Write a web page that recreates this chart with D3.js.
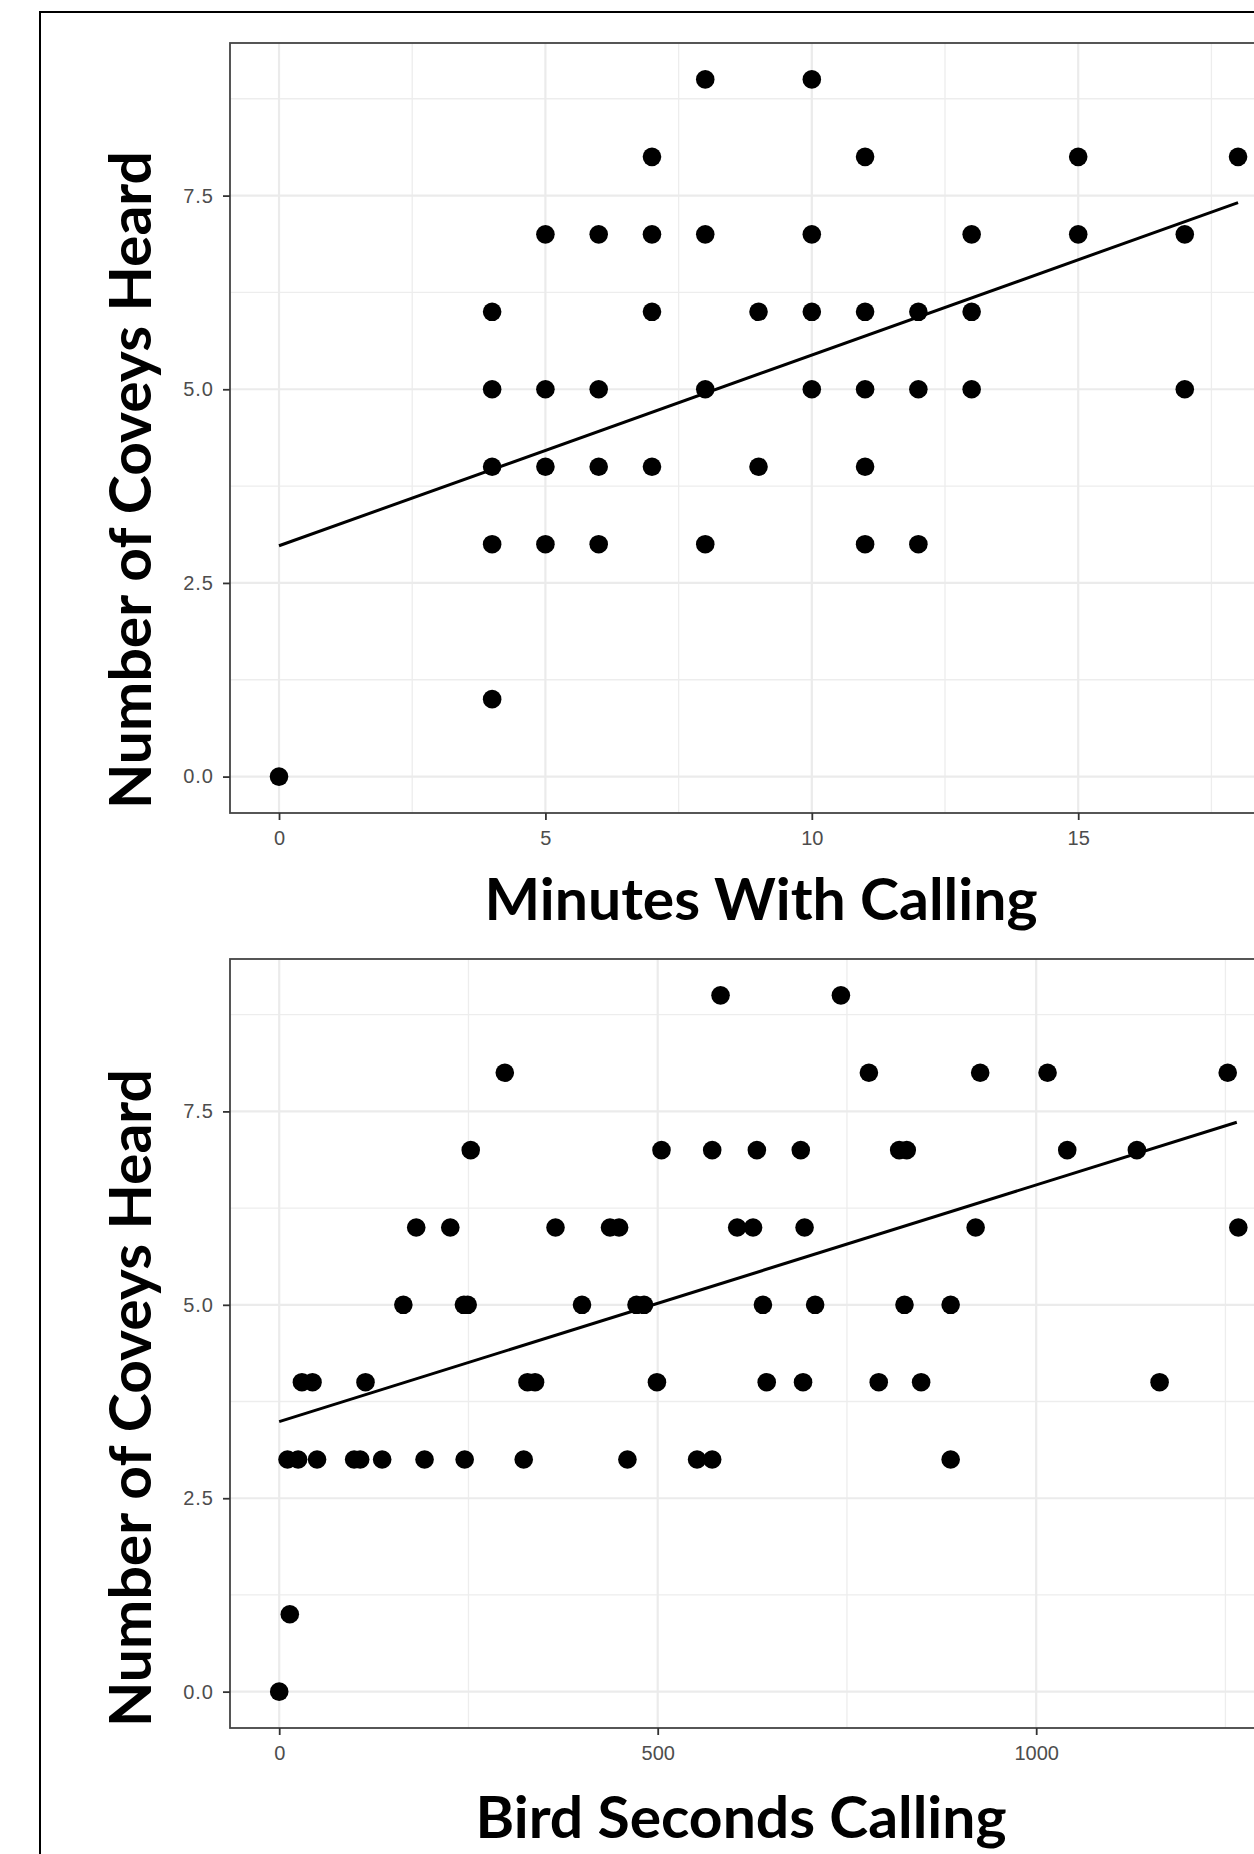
<!DOCTYPE html>
<meta charset="utf-8">
<script src="https://d3js.org/d3.v7.min.js"></script>
<style>
  body { margin: 0; background: #fff; }
  svg { display: block; }
</style>
<body>
<div id="chart"></div>
<script>
// ---- data ----
var minutesCalling = [8, 10,
  7, 11, 15, 18,
  5, 6, 7, 8, 10, 13, 15, 17,
  4, 7, 9, 10, 11, 12, 13,
  4, 5, 6, 8, 10, 11, 12, 13, 17,
  4, 5, 6, 7, 9, 11,
  4, 5, 6, 8, 11, 12,
  4,
  0]
var coveysByMinutes = [9, 9,
  8, 8, 8, 8,
  7, 7, 7, 7, 7, 7, 7, 7,
  6, 6, 6, 6, 6, 6, 6,
  5, 5, 5, 5, 5, 5, 5, 5, 5,
  4, 4, 4, 4, 4, 4,
  3, 3, 3, 3, 3, 3,
  1,
  0]

var birdSeconds = [583, 742,
  298, 779, 926, 1015, 1253,
  253, 505, 572, 631, 689, 819, 829, 1041, 1133,
  181, 226, 365, 437, 449, 605, 626, 694, 920, 1267,
  164, 244, 249, 400, 472, 482, 639, 708, 826, 887,
  30, 44, 114, 328, 338, 499, 644, 692, 792, 848, 1163,
  11, 25, 50, 99, 107, 136, 192, 245, 323, 460, 552, 572, 887,
  14,
  0]
var coveysBySeconds = [9, 9,
  8, 8, 8, 8, 8,
  7, 7, 7, 7, 7, 7, 7, 7, 7,
  6, 6, 6, 6, 6, 6, 6, 6, 6, 6,
  5, 5, 5, 5, 5, 5, 5, 5, 5, 5,
  4, 4, 4, 4, 4, 4, 4, 4, 4, 4, 4,
  3, 3, 3, 3, 3, 3, 3, 3, 3, 3, 3, 3, 3,
  1,
  0]

// fitted lines (ends)
var fitMinutesX = [0, 18], fitMinutesY = [2.98, 7.41]
var fitSecondsX = [0, 1265], fitSecondsY = [3.49, 7.36]

var yTicks = [0, 2.5, 5, 7.5], yMinor = [1.25, 3.75, 6.25, 8.75]
var minutesTicks = [0, 5, 10, 15], minutesMinor = [2.5, 7.5, 12.5, 17.5]
var secondsTicks = [0, 500, 1000], secondsMinor = [250, 750, 1250]

var yTitle = "Number of Coveys Heard"

// ---- drawing ----
var width = 1254, height = 1854

var svg = d3.select("#chart")
  .append("svg")
    .attr("width", width)
    .attr("height", height)

svg.append("rect")
  .attr("width", width).attr("height", height)
  .attr("fill", "white")

// outer frame (runs off the right and bottom edges)
svg.append("rect")
  .attr("x", 40).attr("y", 12)
  .attr("width", 1300).attr("height", 1900)
  .attr("fill", "none")
  .attr("stroke", "black")
  .attr("stroke-width", 2)

function panel(cfg) {
  var left = 230, right = 1286
  var x = d3.scaleLinear().domain(cfg.xDomain).range([left, right])
  var y = d3.scaleLinear().domain([-0.47, 9.47]).range([cfg.bottom, cfg.top])

  var g = svg.append("g")

  // grid
  g.selectAll(".ymin").data(yMinor).enter().append("line")
    .attr("x1", left).attr("x2", right)
    .attr("y1", y).attr("y2", y)
    .attr("stroke", "#ededed").attr("stroke-width", 1.3)
  g.selectAll(".xmin").data(cfg.xMinor).enter().append("line")
    .attr("x1", x).attr("x2", x)
    .attr("y1", cfg.top).attr("y2", cfg.bottom)
    .attr("stroke", "#ededed").attr("stroke-width", 1.3)
  g.selectAll(".ymaj").data(yTicks).enter().append("line")
    .attr("x1", left).attr("x2", right)
    .attr("y1", y).attr("y2", y)
    .attr("stroke", "#ebebeb").attr("stroke-width", 2.2)
  g.selectAll(".xmaj").data(cfg.xTicks).enter().append("line")
    .attr("x1", x).attr("x2", x)
    .attr("y1", cfg.top).attr("y2", cfg.bottom)
    .attr("stroke", "#ebebeb").attr("stroke-width", 2.2)

  // points
  g.selectAll("circle").data(cfg.xs).enter().append("circle")
    .attr("cx", function(d) { return x(d) })
    .attr("cy", function(d, i) { return y(cfg.ys[i]) })
    .attr("r", 9.3)
    .attr("fill", "black")

  // fitted line
  var line = d3.line()
    .x(function(d) { return x(d) })
    .y(function(d, i) { return y(cfg.fitY[i]) })
  g.append("path")
    .datum(cfg.fitX)
    .attr("d", line)
    .attr("fill", "none")
    .attr("stroke", "black")
    .attr("stroke-width", 3)

  // panel border
  g.append("rect")
    .attr("x", left).attr("y", cfg.top)
    .attr("width", right - left).attr("height", cfg.bottom - cfg.top)
    .attr("fill", "none")
    .attr("stroke", "#444")
    .attr("stroke-width", 1.8)

  // axes
  var ax = g.append("g")
    .attr("transform", "translate(0," + cfg.bottom + ")")
    .call(d3.axisBottom(x).tickValues(cfg.xTicks).tickFormat(d3.format("d")).tickSize(7).tickPadding(11))
  var ay = g.append("g")
    .attr("transform", "translate(" + left + ",0)")
    .call(d3.axisLeft(y).tickValues(yTicks).tickFormat(d3.format(".1f")).tickSize(7).tickPadding(9))
  ;[ax, ay].forEach(function(a) {
    a.select(".domain").remove()
    a.selectAll(".tick line").attr("stroke", "#333").attr("stroke-width", 1.8)
    a.selectAll(".tick text")
      .attr("fill", "#4d4d4d")
      .style("font-family", "'Liberation Sans', Arial, sans-serif")
      .style("font-size", "20px")
  })
  ay.selectAll(".tick text").style("letter-spacing", "1px")

  // axis titles
  g.append("text")
    .attr("x", cfg.xTitleX).attr("y", cfg.xTitleY)
    .attr("text-anchor", "middle")
    .attr("textLength", cfg.xTitleW)
    .attr("lengthAdjust", "spacingAndGlyphs")
    .style("font-family", "Lato, 'Open Sans', sans-serif")
    .style("font-weight", "bold")
    .style("font-size", "57px")
    .text(cfg.xTitle)
  g.append("text")
    .attr("transform", "translate(151," + cfg.yTitleY + ") rotate(-90)")
    .attr("text-anchor", "middle")
    .attr("textLength", 658)
    .attr("lengthAdjust", "spacingAndGlyphs")
    .style("font-family", "Lato, 'Open Sans', sans-serif")
    .style("font-weight", "bold")
    .style("font-size", "57px")
    .text(yTitle)
}

panel({
  top: 43, bottom: 813,
  xDomain: [-0.92, 18.9],
  xTicks: minutesTicks, xMinor: minutesMinor,
  xs: minutesCalling, ys: coveysByMinutes,
  fitX: fitMinutesX, fitY: fitMinutesY,
  xTitle: "Minutes With Calling", xTitleX: 761, xTitleY: 920, xTitleW: 553,
  yTitleY: 480
})

panel({
  top: 959, bottom: 1728,
  xDomain: [-65, 1330],
  xTicks: secondsTicks, xMinor: secondsMinor,
  xs: birdSeconds, ys: coveysBySeconds,
  fitX: fitSecondsX, fitY: fitSecondsY,
  xTitle: "Bird Seconds Calling", xTitleX: 741, xTitleY: 1838, xTitleW: 531,
  yTitleY: 1398
})
</script>
</body>
